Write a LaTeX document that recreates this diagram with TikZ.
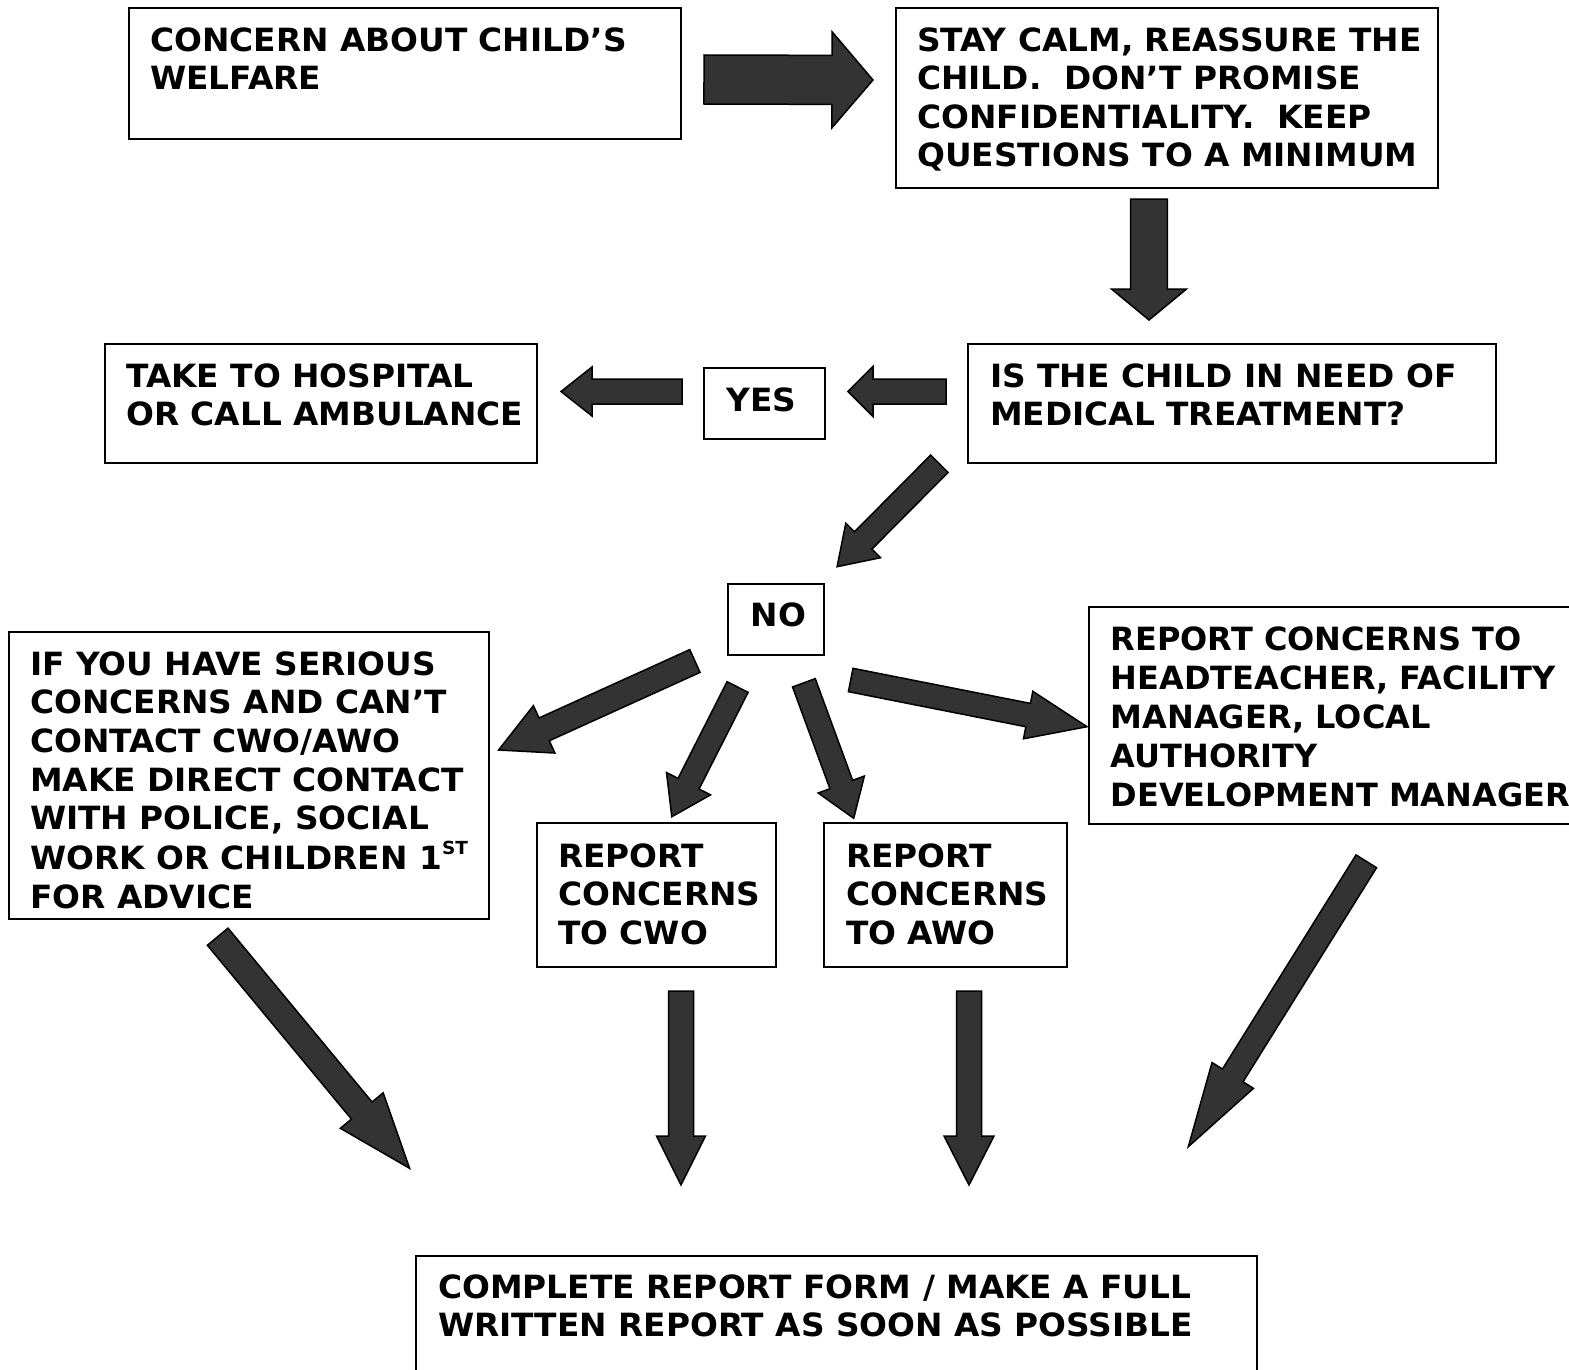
\documentclass[tikz,border=0pt]{standalone}
\usepackage{fontspec}
\setmainfont{DejaVu Sans}[FakeStretch=1.025]
\newfontfamily\plainfont{DejaVu Sans}
\usetikzlibrary{calc}
\definecolor{arrowfill}{HTML}{333333}
\tikzset{
  box/.style={draw=black, line width=2pt, inner sep=0pt, outer sep=0pt, anchor=north west},
  txt/.style={inner sep=0pt, anchor=base west, font=\fontsize{32}{38.5}\selectfont\bfseries},
  blockarrow/.style={draw=black, line width=1.5pt, fill=arrowfill, line join=miter},
}
% #1 start, #2 tip, #3 shaft half width, #4 head half width, #5 head length
\newcommand{\barrow}[5]{%
  \coordinate (hb) at ($(#2)!#5!(#1)$);
  \draw[blockarrow] ($(#1)!#3!90:(#2)$) -- ($(hb)!#3!90:(#2)$) -- ($(hb)!#4!90:(#2)$)
    -- (#2) -- ($(hb)!#4!-90:(#2)$) -- ($(hb)!#3!-90:(#2)$) -- ($(#1)!#3!-90:(#2)$) -- cycle;
}
\newcommand{\tl}[1]{\begin{tabular}[t]{@{}l@{}}#1\end{tabular}}
\begin{document}
\begin{tikzpicture}[x=1pt,y=-1pt]
\useasboundingbox (0,0) rectangle (1569,1370);
\clip (0,0) rectangle (1569,1370);
\fill[white] (0,0) rectangle (1569,1370);

% boxes
\node[box, minimum width=552pt, minimum height=131pt] (b1) at (129,8) {};
\node[box, minimum width=542pt, minimum height=180pt] (b2) at (896,8) {};
\node[box, minimum width=432pt, minimum height=119pt] (b3) at (105,344) {};
\node[box, minimum width=121pt, minimum height=71pt] (byes) at (704,368) {};
\node[box, minimum width=528pt, minimum height=119pt] (b5) at (968,344) {};
\node[box, minimum width=96pt, minimum height=71pt] (bno) at (728,584) {};
\node[box, minimum width=480pt, minimum height=287pt] (b7) at (9,632) {};
\node[box, minimum width=239pt, minimum height=144pt] (bcwo) at (537,823) {};
\node[box, minimum width=243pt, minimum height=144pt] (bawo) at (824,823) {};
\node[box, minimum width=520pt, minimum height=217pt] (bright) at (1089,607) {};
\node[box, minimum width=841pt, minimum height=160pt] (bbot) at (416,1256) {};

% texts
\node[txt] (t1) at (150,51.5) {\tl{CONCERN ABOUT CHILD’S\\WELFARE}};
\node[txt] (t2) at (917,51.5) {\tl{STAY CALM, REASSURE THE\\CHILD.\ \ DON’T PROMISE\\CONFIDENTIALITY.\ \ KEEP\\QUESTIONS TO A MINIMUM}};
\node[txt] (t3) at (126,387) {\tl{TAKE TO HOSPITAL\\OR CALL AMBULANCE}};
\node[txt] (tyes) at (726.5,411) {YES};
\node[txt] (t5) at (990,387) {\tl{IS THE CHILD IN NEED OF\\MEDICAL TREATMENT?}};
\node[txt] (tno) at (750.5,626.5) {NO};
\node[txt, font=\fontsize{32}{38.7}\selectfont\bfseries] (t7) at (30,675) {\tl{IF YOU HAVE SERIOUS\\CONCERNS AND CAN’T\\CONTACT CWO/AWO\\MAKE DIRECT CONTACT\\WITH POLICE, SOCIAL\\WORK OR CHILDREN 1\raisebox{15pt}{\fontsize{18}{18}\selectfont ST}\\FOR ADVICE}};
\node[txt] (tcwo) at (558,867) {\tl{REPORT\\CONCERNS\\TO CWO}};
\node[txt] (tawo) at (846,867) {\tl{REPORT\\CONCERNS\\TO AWO}};
\node[txt, font=\plainfont\fontsize{32}{39}\selectfont\bfseries] (tright) at (1110.5,650) {\tl{REPORT CONCERNS TO\\HEADTEACHER, FACILITY\\MANAGER, LOCAL\\AUTHORITY\\DEVELOPMENT MANAGER}};
\node[txt] (tbot) at (438,1298) {\tl{COMPLETE REPORT FORM / MAKE A FULL\\WRITTEN REPORT AS SOON AS POSSIBLE}};

% arrow end points
\coordinate (a1s) at (704,79.5);   \coordinate (a1e) at (873,80);
\coordinate (a2s) at (1149,199);   \coordinate (a2e) at (1149,320);
\coordinate (a3s) at (946,391.5);  \coordinate (a3e) at (848,391.5);
\coordinate (a4s) at (682,391.5);  \coordinate (a4e) at (561,391.5);
\coordinate (a5s) at (939.3,463.8); \coordinate (a5e) at (837.1,566.7);
\coordinate (a6s) at (694.9,661);  \coordinate (a6e) at (498.6,750);
\coordinate (a7s) at (737.6,687);  \coordinate (a7e) at (671.8,816.7);
\coordinate (a8s) at (803.9,682.8); \coordinate (a8e) at (853.7,818.3);
\coordinate (a9s) at (850.7,680);  \coordinate (a9e) at (1087,726.7);
\coordinate (a10s) at (217.7,936.7); \coordinate (a10e) at (409.6,1168.3);
\coordinate (a11s) at (681,991);   \coordinate (a11e) at (681,1185);
\coordinate (a12s) at (969,991);   \coordinate (a12e) at (969,1185);
\coordinate (a13s) at (1366.3,861.3); \coordinate (a13e) at (1188.3,1146.7);

\barrow{a1s}{a1e}{24.5pt}{48pt}{41pt}
\barrow{a2s}{a2e}{18.3pt}{37.5pt}{31pt}
\barrow{a3s}{a3e}{12.5pt}{25pt}{25pt}
\barrow{a4s}{a4e}{12.5pt}{24.5pt}{31pt}
\barrow{a5s}{a5e}{12.3pt}{24.5pt}{37pt}
\barrow{a6s}{a6e}{12.5pt}{26pt}{50pt}
\barrow{a7s}{a7e}{11.8pt}{24.7pt}{37pt}
\barrow{a8s}{a8e}{12.1pt}{24.6pt}{36pt}
\barrow{a9s}{a9e}{11.9pt}{24.2pt}{60pt}
\barrow{a10s}{a10e}{13.4pt}{27.8pt}{75pt}
\barrow{a11s}{a11e}{12.5pt}{24.5pt}{49pt}
\barrow{a12s}{a12e}{12.5pt}{25pt}{49pt}
\barrow{a13s}{a13e}{12.1pt}{24.4pt}{84pt}
\end{tikzpicture}
\end{document}
